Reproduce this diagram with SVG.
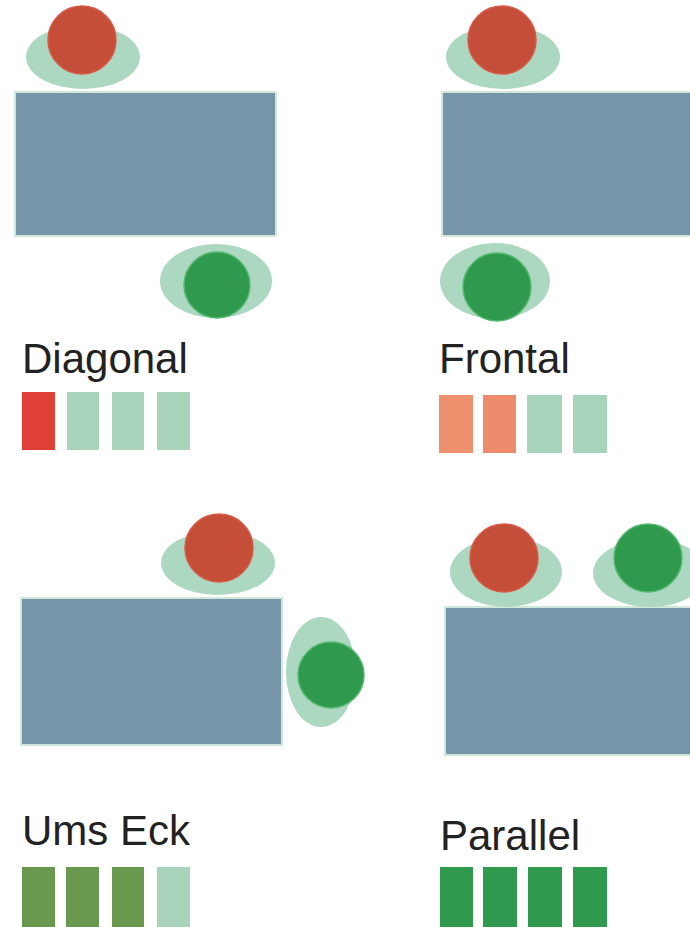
<svg xmlns="http://www.w3.org/2000/svg" width="690" height="927" viewBox="0 0 690 927">
<style>
.tbl{fill:#7795a8;stroke:#cfe8da;stroke-width:2}
.halo{fill:#acd8c1}
.red{fill:#c44e38;stroke:#d85a48;stroke-width:1.5}
.grn{fill:#2f9a4d;stroke:#55b870;stroke-width:1.5}
.lbl{font-family:"Liberation Sans",Arial,sans-serif;font-size:42px;fill:#222}
.mint{fill:#a8d4bc}
</style>
<rect width="690" height="927" fill="#fff"/>
<g id="diagonal">
<rect class="tbl" x="15" y="92" width="261" height="144"/>
<ellipse class="halo" cx="83" cy="57" rx="57" ry="32"/>
<circle class="red" cx="82" cy="40" r="34"/>
<ellipse class="halo" cx="216" cy="281" rx="56" ry="37"/>
<circle class="grn" cx="217" cy="285" r="33"/>
<text class="lbl" x="22" y="373">Diagonal</text>
<rect x="22" y="392" width="33" height="58" fill="#de4038"/>
<rect class="mint" x="67" y="392" width="32" height="58"/>
<rect class="mint" x="112" y="392" width="32" height="58"/>
<rect class="mint" x="157" y="392" width="33" height="58"/>
</g>
<g id="frontal">
<rect class="tbl" x="442" y="92" width="260" height="144"/>
<ellipse class="halo" cx="503" cy="57" rx="57" ry="32"/>
<circle class="red" cx="502" cy="40" r="34"/>
<ellipse class="halo" cx="495" cy="281" rx="55" ry="38"/>
<circle class="grn" cx="497" cy="287" r="34"/>
<text class="lbl" x="439" y="373">Frontal</text>
<rect x="439" y="395" width="34" height="58" fill="#ee8f6e"/>
<rect x="483" y="395" width="33" height="58" fill="#ec8c6c"/>
<rect class="mint" x="527" y="395" width="35" height="58"/>
<rect class="mint" x="573" y="395" width="34" height="58"/>
</g>
<g id="ums-eck">
<rect class="tbl" x="21" y="598" width="261" height="147"/>
<ellipse class="halo" cx="218" cy="563" rx="57" ry="32"/>
<circle class="red" cx="219" cy="548" r="34"/>
<ellipse class="halo" cx="321" cy="672" rx="35" ry="55"/>
<circle class="grn" cx="331" cy="675" r="33"/>
<text class="lbl" x="22" y="845">Ums Eck</text>
<rect x="22" y="867" width="33" height="60" fill="#69984f"/>
<rect x="66" y="867" width="33" height="60" fill="#69984f"/>
<rect x="112" y="867" width="32" height="60" fill="#69984f"/>
<rect class="mint" x="157" y="867" width="33" height="60"/>
</g>
<g id="parallel">
<rect class="tbl" x="445" y="607" width="257" height="148"/>
<ellipse class="halo" cx="506" cy="572" rx="56" ry="35"/>
<circle class="red" cx="504" cy="558" r="34"/>
<ellipse class="halo" cx="650" cy="573" rx="57" ry="34"/>
<circle class="grn" cx="648" cy="558" r="34"/>
<text class="lbl" x="440" y="850">Parallel</text>
<rect x="440" y="867" width="33" height="60" fill="#2f9a4d"/>
<rect x="483" y="867" width="34" height="60" fill="#2f9a4d"/>
<rect x="528" y="867" width="34" height="60" fill="#2f9a4d"/>
<rect x="573" y="867" width="34" height="60" fill="#2f9a4d"/>
</g>
<g id="connectors"/>
</svg>
